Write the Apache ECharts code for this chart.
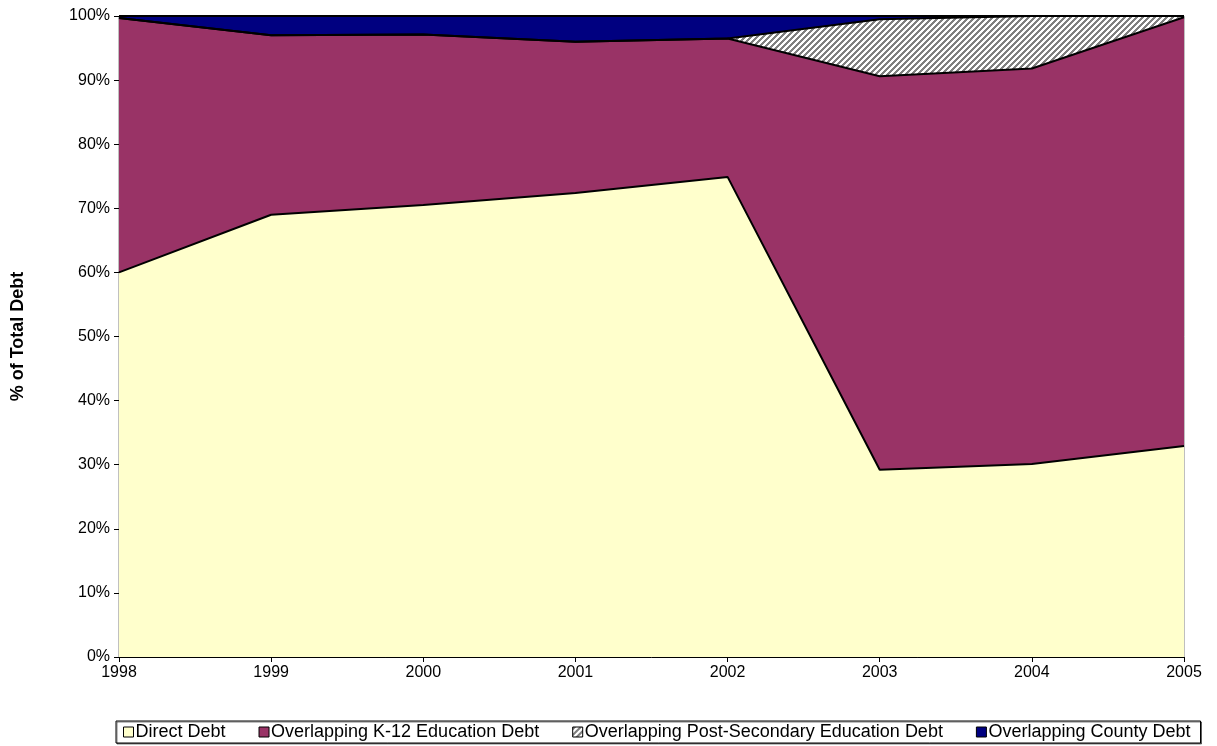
<!DOCTYPE html>
<html>
<head>
<meta charset="utf-8">
<script src="https://cdn.jsdelivr.net/npm/echarts@6/dist/echarts.min.js"></script>
<style>
  html, body { margin: 0; padding: 0; background: #fff; }
  #chart { width: 1217px; height: 746px; }
</style>
</head>
<body>
<div id="chart"></div>
<script>
// Share of total debt by source, percent
const years = ['1998', '1999', '2000', '2001', '2002', '2003', '2004', '2005'];
const directDebt = [60.0, 69.0, 70.5, 72.4, 74.9, 29.2, 30.1, 32.9];
const k12Debt = [39.7, 28.0, 26.6, 23.6, 21.6, 61.4, 61.7, 66.9];
const postSecondaryDebt = [0, 0, 0, 0, 0, 8.9, 8.2, 0.2];
const countyDebt = [0.3, 3.0, 2.9, 4.0, 3.5, 0.5, 0, 0];
const yTicks = [0, 10, 20, 30, 40, 50, 60, 70, 80, 90, 100];

// Diagonal grey/white hatch fill
function hatchPattern() {
  const size = 6;
  const c = document.createElement('canvas');
  c.width = size; c.height = size;
  const ctx = c.getContext('2d');
  const img = ctx.createImageData(size, size);
  for (let y = 0; y < size; y++) {
    for (let x = 0; x < size; x++) {
      const i = (y * size + x) * 4;
      const grey = ((x + y) % size) < 3;
      const v = grey ? 128 : 255;
      img.data[i] = v; img.data[i + 1] = v; img.data[i + 2] = v; img.data[i + 3] = 255;
    }
  }
  ctx.putImageData(img, 0, 0);
  return { image: c, repeat: 'repeat' };
}

const chart = echarts.init(document.getElementById('chart'), null, { renderer: 'canvas' });
const font = 'Liberation Sans, Arial, sans-serif';

function areaSeries(name, data, color) {
  return {
    name: name,
    type: 'line',
    stack: 'total',
    data: data,
    symbol: 'none',
    smooth: false,
    lineStyle: { color: '#000', width: 2 },
    areaStyle: { color: color, opacity: 1 },
    itemStyle: { color: color, borderColor: '#000', borderWidth: 1 },
    emphasis: { disabled: true }
  };
}

chart.setOption({
  animation: false,
  backgroundColor: '#fff',
  textStyle: { fontFamily: font },
  grid: {
    left: 119, right: 33, top: 16, bottom: 89,
    show: true, borderColor: '#808080', borderWidth: 1, backgroundColor: 'transparent'
  },
  legend: {
    left: 116, top: 721,
    padding: [2, 10, 2, 7],
    itemGap: 33,
    itemWidth: 10, itemHeight: 10,
    icon: 'rect',
    borderColor: '#000', borderWidth: 1,
    shadowColor: 'rgba(0,0,0,0.5)', shadowOffsetX: 1, shadowOffsetY: 1, shadowBlur: 0,
    backgroundColor: '#fff',
    itemStyle: { borderColor: '#000', borderWidth: 1 },
    textStyle: { fontSize: 18, color: '#000', fontFamily: font, padding: [0, 0, 0, -3] },
    data: ['Direct Debt', 'Overlapping K-12 Education Debt', 'Overlapping Post-Secondary Education Debt', 'Overlapping County Debt']
  },
  xAxis: {
    type: 'category',
    data: years,
    boundaryGap: false,
    axisLine: { lineStyle: { color: '#000', width: 1 } },
    axisTick: { show: true, length: 5, inside: false, lineStyle: { color: '#000' } },
    axisLabel: { color: '#000', fontSize: 16, margin: 8, fontFamily: font },
    splitLine: { show: false }
  },
  yAxis: {
    type: 'value',
    min: yTicks[0], max: yTicks[yTicks.length - 1], interval: 10,
    name: '% of Total Debt',
    nameLocation: 'middle',
    nameGap: 92,
    nameRotate: 90,
    nameTextStyle: { color: '#000', fontSize: 18, fontWeight: 'bold', fontFamily: font },
    axisLine: { show: true, lineStyle: { color: '#000', width: 1 } },
    axisTick: { show: true, length: 5, inside: false, lineStyle: { color: '#000' } },
    axisLabel: { color: '#000', fontSize: 16, margin: 9, formatter: '{value}%', fontFamily: font },
    splitLine: { show: false }
  },
  series: [
    areaSeries('Direct Debt', directDebt, '#FFFFCC'),
    areaSeries('Overlapping K-12 Education Debt', k12Debt, '#993366'),
    areaSeries('Overlapping Post-Secondary Education Debt', postSecondaryDebt, hatchPattern()),
    areaSeries('Overlapping County Debt', countyDebt, '#000080')
  ]
});
</script>
</body>
</html>
